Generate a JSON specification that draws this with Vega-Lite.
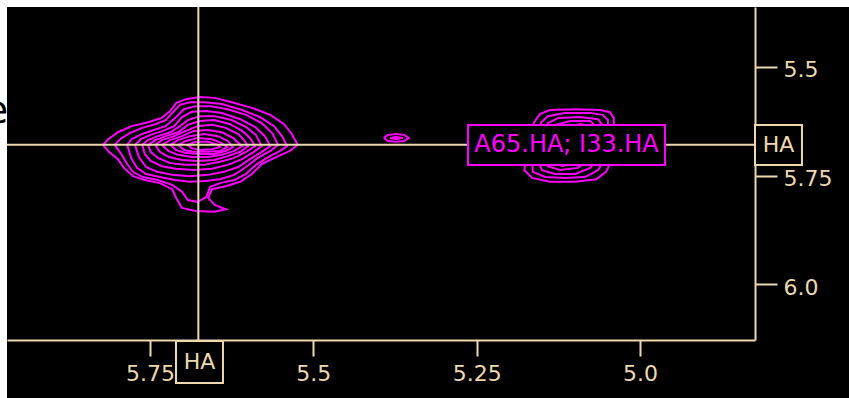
{
"$schema": "https://vega.github.io/schema/vega-lite/v6.json",
"width": 748, "height": 333,
"autosize": {"type": "none"},
"padding": {"left": 7, "top": 7, "right": 94, "bottom": 58},
"background": "#000000",
"config": {"view": {"stroke": null}},
"datasets": {
"contours": [
{"c":"m0","i":0,"x":5.822,"y":5.679},{"c":"m0","i":1,"x":5.814,"y":5.666},{"c":"m0","i":2,"x":5.799,"y":5.650},{"c":"m0","i":3,"x":5.778,"y":5.636},{"c":"m0","i":4,"x":5.753,"y":5.627},{"c":"m0","i":5,"x":5.732,"y":5.617},{"c":"m0","i":6,"x":5.719,"y":5.601},{"c":"m0","i":7,"x":5.710,"y":5.583},{"c":"m0","i":8,"x":5.695,"y":5.574},{"c":"m0","i":9,"x":5.674,"y":5.569},{"c":"m0","i":10,"x":5.651,"y":5.571},{"c":"m0","i":11,"x":5.625,"y":5.581},{"c":"m0","i":12,"x":5.594,"y":5.594},{"c":"m0","i":13,"x":5.566,"y":5.610},{"c":"m0","i":14,"x":5.545,"y":5.631},{"c":"m0","i":15,"x":5.533,"y":5.654},{"c":"m0","i":16,"x":5.524,"y":5.679},{"c":"m0","i":17,"x":5.536,"y":5.693},{"c":"m0","i":18,"x":5.557,"y":5.707},{"c":"m0","i":19,"x":5.579,"y":5.723},{"c":"m0","i":20,"x":5.594,"y":5.746},{"c":"m0","i":21,"x":5.612,"y":5.764},{"c":"m0","i":22,"x":5.634,"y":5.774},{"c":"m0","i":23,"x":5.655,"y":5.781},{"c":"m0","i":24,"x":5.661,"y":5.801},{"c":"m0","i":25,"x":5.651,"y":5.817},{"c":"m0","i":26,"x":5.634,"y":5.827},{"c":"m0","i":27,"x":5.652,"y":5.833},{"c":"m0","i":28,"x":5.680,"y":5.831},{"c":"m0","i":29,"x":5.701,"y":5.824},{"c":"m0","i":30,"x":5.710,"y":5.801},{"c":"m0","i":31,"x":5.716,"y":5.781},{"c":"m0","i":32,"x":5.735,"y":5.767},{"c":"m0","i":33,"x":5.758,"y":5.760},{"c":"m0","i":34,"x":5.776,"y":5.751},{"c":"m0","i":35,"x":5.790,"y":5.732},{"c":"m0","i":36,"x":5.799,"y":5.712},{"c":"m0","i":37,"x":5.813,"y":5.695},{"c":"m0","i":38,"x":5.822,"y":5.679},
{"c":"m1","i":0,"x":5.804,"y":5.679},{"c":"m1","i":1,"x":5.796,"y":5.666},{"c":"m1","i":2,"x":5.781,"y":5.652},{"c":"m1","i":3,"x":5.762,"y":5.640},{"c":"m1","i":4,"x":5.741,"y":5.631},{"c":"m1","i":5,"x":5.726,"y":5.622},{"c":"m1","i":6,"x":5.713,"y":5.601},{"c":"m1","i":7,"x":5.704,"y":5.587},{"c":"m1","i":8,"x":5.689,"y":5.581},{"c":"m1","i":9,"x":5.666,"y":5.581},{"c":"m1","i":10,"x":5.640,"y":5.585},{"c":"m1","i":11,"x":5.609,"y":5.599},{"c":"m1","i":12,"x":5.582,"y":5.615},{"c":"m1","i":13,"x":5.560,"y":5.636},{"c":"m1","i":14,"x":5.548,"y":5.659},{"c":"m1","i":15,"x":5.540,"y":5.682},{"c":"m1","i":16,"x":5.551,"y":5.693},{"c":"m1","i":17,"x":5.569,"y":5.707},{"c":"m1","i":18,"x":5.588,"y":5.725},{"c":"m1","i":19,"x":5.603,"y":5.746},{"c":"m1","i":20,"x":5.621,"y":5.760},{"c":"m1","i":21,"x":5.643,"y":5.767},{"c":"m1","i":22,"x":5.658,"y":5.776},{"c":"m1","i":23,"x":5.664,"y":5.799},{"c":"m1","i":24,"x":5.677,"y":5.810},{"c":"m1","i":25,"x":5.692,"y":5.806},{"c":"m1","i":26,"x":5.701,"y":5.787},{"c":"m1","i":27,"x":5.716,"y":5.771},{"c":"m1","i":28,"x":5.738,"y":5.760},{"c":"m1","i":29,"x":5.761,"y":5.753},{"c":"m1","i":30,"x":5.776,"y":5.741},{"c":"m1","i":31,"x":5.785,"y":5.723},{"c":"m1","i":32,"x":5.794,"y":5.700},{"c":"m1","i":33,"x":5.804,"y":5.679},
{"c":"m2","i":0,"x":5.785,"y":5.679},{"c":"m2","i":1,"x":5.778,"y":5.666},{"c":"m2","i":2,"x":5.762,"y":5.654},{"c":"m2","i":3,"x":5.744,"y":5.645},{"c":"m2","i":4,"x":5.726,"y":5.636},{"c":"m2","i":5,"x":5.710,"y":5.615},{"c":"m2","i":6,"x":5.698,"y":5.597},{"c":"m2","i":7,"x":5.680,"y":5.590},{"c":"m2","i":8,"x":5.658,"y":5.590},{"c":"m2","i":9,"x":5.631,"y":5.597},{"c":"m2","i":10,"x":5.603,"y":5.610},{"c":"m2","i":11,"x":5.579,"y":5.629},{"c":"m2","i":12,"x":5.563,"y":5.652},{"c":"m2","i":13,"x":5.554,"y":5.679},{"c":"m2","i":14,"x":5.566,"y":5.693},{"c":"m2","i":15,"x":5.585,"y":5.709},{"c":"m2","i":16,"x":5.603,"y":5.730},{"c":"m2","i":17,"x":5.621,"y":5.748},{"c":"m2","i":18,"x":5.643,"y":5.758},{"c":"m2","i":19,"x":5.666,"y":5.762},{"c":"m2","i":20,"x":5.689,"y":5.764},{"c":"m2","i":21,"x":5.712,"y":5.760},{"c":"m2","i":22,"x":5.735,"y":5.753},{"c":"m2","i":23,"x":5.756,"y":5.746},{"c":"m2","i":24,"x":5.770,"y":5.732},{"c":"m2","i":25,"x":5.779,"y":5.709},{"c":"m2","i":26,"x":5.785,"y":5.679},
{"c":"m3","i":0,"x":5.773,"y":5.679},{"c":"m3","i":1,"x":5.764,"y":5.666},{"c":"m3","i":2,"x":5.749,"y":5.656},{"c":"m3","i":3,"x":5.730,"y":5.647},{"c":"m3","i":4,"x":5.713,"y":5.636},{"c":"m3","i":5,"x":5.701,"y":5.615},{"c":"m3","i":6,"x":5.686,"y":5.603},{"c":"m3","i":7,"x":5.664,"y":5.601},{"c":"m3","i":8,"x":5.640,"y":5.606},{"c":"m3","i":9,"x":5.612,"y":5.620},{"c":"m3","i":10,"x":5.589,"y":5.638},{"c":"m3","i":11,"x":5.574,"y":5.659},{"c":"m3","i":12,"x":5.566,"y":5.682},{"c":"m3","i":13,"x":5.579,"y":5.695},{"c":"m3","i":14,"x":5.597,"y":5.712},{"c":"m3","i":15,"x":5.615,"y":5.730},{"c":"m3","i":16,"x":5.637,"y":5.741},{"c":"m3","i":17,"x":5.661,"y":5.748},{"c":"m3","i":18,"x":5.689,"y":5.751},{"c":"m3","i":19,"x":5.716,"y":5.748},{"c":"m3","i":20,"x":5.739,"y":5.741},{"c":"m3","i":21,"x":5.756,"y":5.730},{"c":"m3","i":22,"x":5.767,"y":5.707},{"c":"m3","i":23,"x":5.773,"y":5.679},
{"c":"m4","i":0,"x":5.762,"y":5.679},{"c":"m4","i":1,"x":5.753,"y":5.668},{"c":"m4","i":2,"x":5.738,"y":5.659},{"c":"m4","i":3,"x":5.719,"y":5.650},{"c":"m4","i":4,"x":5.704,"y":5.636},{"c":"m4","i":5,"x":5.692,"y":5.622},{"c":"m4","i":6,"x":5.674,"y":5.613},{"c":"m4","i":7,"x":5.651,"y":5.613},{"c":"m4","i":8,"x":5.625,"y":5.622},{"c":"m4","i":9,"x":5.603,"y":5.638},{"c":"m4","i":10,"x":5.588,"y":5.656},{"c":"m4","i":11,"x":5.579,"y":5.682},{"c":"m4","i":12,"x":5.591,"y":5.695},{"c":"m4","i":13,"x":5.609,"y":5.712},{"c":"m4","i":14,"x":5.631,"y":5.725},{"c":"m4","i":15,"x":5.655,"y":5.734},{"c":"m4","i":16,"x":5.683,"y":5.737},{"c":"m4","i":17,"x":5.710,"y":5.734},{"c":"m4","i":18,"x":5.732,"y":5.728},{"c":"m4","i":19,"x":5.749,"y":5.716},{"c":"m4","i":20,"x":5.758,"y":5.700},{"c":"m4","i":21,"x":5.762,"y":5.679},
{"c":"m5","i":0,"x":5.753,"y":5.679},{"c":"m5","i":1,"x":5.742,"y":5.668},{"c":"m5","i":2,"x":5.726,"y":5.659},{"c":"m5","i":3,"x":5.707,"y":5.650},{"c":"m5","i":4,"x":5.692,"y":5.633},{"c":"m5","i":5,"x":5.674,"y":5.624},{"c":"m5","i":6,"x":5.652,"y":5.622},{"c":"m5","i":7,"x":5.628,"y":5.631},{"c":"m5","i":8,"x":5.609,"y":5.647},{"c":"m5","i":9,"x":5.597,"y":5.663},{"c":"m5","i":10,"x":5.589,"y":5.682},{"c":"m5","i":11,"x":5.603,"y":5.695},{"c":"m5","i":12,"x":5.621,"y":5.709},{"c":"m5","i":13,"x":5.643,"y":5.718},{"c":"m5","i":14,"x":5.667,"y":5.725},{"c":"m5","i":15,"x":5.695,"y":5.725},{"c":"m5","i":16,"x":5.719,"y":5.721},{"c":"m5","i":17,"x":5.738,"y":5.709},{"c":"m5","i":18,"x":5.749,"y":5.695},{"c":"m5","i":19,"x":5.753,"y":5.679},
{"c":"m6","i":0,"x":5.742,"y":5.679},{"c":"m6","i":1,"x":5.732,"y":5.668},{"c":"m6","i":2,"x":5.713,"y":5.659},{"c":"m6","i":3,"x":5.695,"y":5.647},{"c":"m6","i":4,"x":5.677,"y":5.636},{"c":"m6","i":5,"x":5.655,"y":5.633},{"c":"m6","i":6,"x":5.634,"y":5.640},{"c":"m6","i":7,"x":5.615,"y":5.654},{"c":"m6","i":8,"x":5.606,"y":5.668},{"c":"m6","i":9,"x":5.600,"y":5.682},{"c":"m6","i":10,"x":5.612,"y":5.695},{"c":"m6","i":11,"x":5.631,"y":5.705},{"c":"m6","i":12,"x":5.652,"y":5.714},{"c":"m6","i":13,"x":5.677,"y":5.716},{"c":"m6","i":14,"x":5.701,"y":5.714},{"c":"m6","i":15,"x":5.721,"y":5.707},{"c":"m6","i":16,"x":5.735,"y":5.695},{"c":"m6","i":17,"x":5.742,"y":5.679},
{"c":"m7","i":0,"x":5.732,"y":5.679},{"c":"m7","i":1,"x":5.719,"y":5.668},{"c":"m7","i":2,"x":5.701,"y":5.659},{"c":"m7","i":3,"x":5.683,"y":5.647},{"c":"m7","i":4,"x":5.661,"y":5.645},{"c":"m7","i":5,"x":5.640,"y":5.650},{"c":"m7","i":6,"x":5.623,"y":5.663},{"c":"m7","i":7,"x":5.609,"y":5.682},{"c":"m7","i":8,"x":5.621,"y":5.693},{"c":"m7","i":9,"x":5.640,"y":5.702},{"c":"m7","i":10,"x":5.661,"y":5.707},{"c":"m7","i":11,"x":5.686,"y":5.707},{"c":"m7","i":12,"x":5.707,"y":5.702},{"c":"m7","i":13,"x":5.722,"y":5.693},{"c":"m7","i":14,"x":5.732,"y":5.679},
{"c":"m8","i":0,"x":5.719,"y":5.679},{"c":"m8","i":1,"x":5.707,"y":5.668},{"c":"m8","i":2,"x":5.689,"y":5.659},{"c":"m8","i":3,"x":5.667,"y":5.654},{"c":"m8","i":4,"x":5.646,"y":5.659},{"c":"m8","i":5,"x":5.631,"y":5.670},{"c":"m8","i":6,"x":5.623,"y":5.684},{"c":"m8","i":7,"x":5.634,"y":5.693},{"c":"m8","i":8,"x":5.652,"y":5.700},{"c":"m8","i":9,"x":5.674,"y":5.700},{"c":"m8","i":10,"x":5.695,"y":5.698},{"c":"m8","i":11,"x":5.710,"y":5.691},{"c":"m8","i":12,"x":5.719,"y":5.679},
{"c":"m9","i":0,"x":5.707,"y":5.679},{"c":"m9","i":1,"x":5.695,"y":5.670},{"c":"m9","i":2,"x":5.677,"y":5.663},{"c":"m9","i":3,"x":5.655,"y":5.666},{"c":"m9","i":4,"x":5.640,"y":5.675},{"c":"m9","i":5,"x":5.632,"y":5.684},{"c":"m9","i":6,"x":5.643,"y":5.693},{"c":"m9","i":7,"x":5.661,"y":5.695},{"c":"m9","i":8,"x":5.683,"y":5.695},{"c":"m9","i":9,"x":5.698,"y":5.691},{"c":"m9","i":10,"x":5.707,"y":5.679},
{"c":"m10","i":0,"x":5.693,"y":5.679},{"c":"m10","i":1,"x":5.680,"y":5.672},{"c":"m10","i":2,"x":5.661,"y":5.672},{"c":"m10","i":3,"x":5.646,"y":5.679},{"c":"m10","i":4,"x":5.643,"y":5.684},{"c":"m10","i":5,"x":5.655,"y":5.689},{"c":"m10","i":6,"x":5.674,"y":5.691},{"c":"m10","i":7,"x":5.687,"y":5.686},{"c":"m10","i":8,"x":5.693,"y":5.679},
{"c":"p0","i":0,"x":5.168,"y":5.656},{"c":"p0","i":1,"x":5.162,"y":5.627},{"c":"p0","i":2,"x":5.153,"y":5.608},{"c":"p0","i":3,"x":5.138,"y":5.599},{"c":"p0","i":4,"x":5.099,"y":5.597},{"c":"p0","i":5,"x":5.061,"y":5.599},{"c":"p0","i":6,"x":5.046,"y":5.604},{"c":"p0","i":7,"x":5.040,"y":5.617},{"c":"p0","i":8,"x":5.040,"y":5.656},{"c":"p0","i":9,"x":5.043,"y":5.714},{"c":"p0","i":10,"x":5.052,"y":5.741},{"c":"p0","i":11,"x":5.067,"y":5.758},{"c":"p0","i":12,"x":5.099,"y":5.764},{"c":"p0","i":13,"x":5.138,"y":5.764},{"c":"p0","i":14,"x":5.165,"y":5.755},{"c":"p0","i":15,"x":5.177,"y":5.737},{"c":"p0","i":16,"x":5.174,"y":5.702},{"c":"p0","i":17,"x":5.168,"y":5.656},
{"c":"p1","i":0,"x":5.156,"y":5.656},{"c":"p1","i":1,"x":5.151,"y":5.627},{"c":"p1","i":2,"x":5.141,"y":5.613},{"c":"p1","i":3,"x":5.115,"y":5.606},{"c":"p1","i":4,"x":5.076,"y":5.606},{"c":"p1","i":5,"x":5.057,"y":5.610},{"c":"p1","i":6,"x":5.049,"y":5.622},{"c":"p1","i":7,"x":5.049,"y":5.656},{"c":"p1","i":8,"x":5.055,"y":5.714},{"c":"p1","i":9,"x":5.064,"y":5.737},{"c":"p1","i":10,"x":5.084,"y":5.753},{"c":"p1","i":11,"x":5.115,"y":5.755},{"c":"p1","i":12,"x":5.145,"y":5.753},{"c":"p1","i":13,"x":5.164,"y":5.741},{"c":"p1","i":14,"x":5.165,"y":5.714},{"c":"p1","i":15,"x":5.156,"y":5.656},
{"c":"p2","i":0,"x":5.145,"y":5.656},{"c":"p2","i":1,"x":5.141,"y":5.629},{"c":"p2","i":2,"x":5.125,"y":5.617},{"c":"p2","i":3,"x":5.092,"y":5.615},{"c":"p2","i":4,"x":5.064,"y":5.620},{"c":"p2","i":5,"x":5.058,"y":5.633},{"c":"p2","i":6,"x":5.061,"y":5.668},{"c":"p2","i":7,"x":5.067,"y":5.714},{"c":"p2","i":8,"x":5.076,"y":5.732},{"c":"p2","i":9,"x":5.099,"y":5.746},{"c":"p2","i":10,"x":5.130,"y":5.746},{"c":"p2","i":11,"x":5.150,"y":5.737},{"c":"p2","i":12,"x":5.156,"y":5.714},{"c":"p2","i":13,"x":5.145,"y":5.656},
{"c":"p3","i":0,"x":5.135,"y":5.656},{"c":"p3","i":1,"x":5.129,"y":5.633},{"c":"p3","i":2,"x":5.107,"y":5.624},{"c":"p3","i":3,"x":5.076,"y":5.624},{"c":"p3","i":4,"x":5.067,"y":5.638},{"c":"p3","i":5,"x":5.073,"y":5.679},{"c":"p3","i":6,"x":5.079,"y":5.714},{"c":"p3","i":7,"x":5.095,"y":5.732},{"c":"p3","i":8,"x":5.122,"y":5.737},{"c":"p3","i":9,"x":5.141,"y":5.728},{"c":"p3","i":10,"x":5.144,"y":5.702},{"c":"p3","i":11,"x":5.135,"y":5.656},
{"c":"p4","i":0,"x":5.122,"y":5.668},{"c":"p4","i":1,"x":5.115,"y":5.645},{"c":"p4","i":2,"x":5.092,"y":5.631},{"c":"p4","i":3,"x":5.076,"y":5.636},{"c":"p4","i":4,"x":5.083,"y":5.691},{"c":"p4","i":5,"x":5.095,"y":5.718},{"c":"p4","i":6,"x":5.119,"y":5.728},{"c":"p4","i":7,"x":5.133,"y":5.714},{"c":"p4","i":8,"x":5.122,"y":5.668},
{"c":"s0","i":0,"x":5.392,"y":5.663},{"c":"s0","i":1,"x":5.386,"y":5.656},{"c":"s0","i":2,"x":5.373,"y":5.654},{"c":"s0","i":3,"x":5.361,"y":5.656},{"c":"s0","i":4,"x":5.354,"y":5.663},{"c":"s0","i":5,"x":5.361,"y":5.670},{"c":"s0","i":6,"x":5.373,"y":5.672},{"c":"s0","i":7,"x":5.386,"y":5.670},{"c":"s0","i":8,"x":5.392,"y":5.663},
{"c":"s1","i":0,"x":5.383,"y":5.663},{"c":"s1","i":1,"x":5.373,"y":5.661},{"c":"s1","i":2,"x":5.363,"y":5.663},{"c":"s1","i":3,"x":5.373,"y":5.666},{"c":"s1","i":4,"x":5.383,"y":5.663}
]
},
"encoding": {
"x": {"field": "x", "type": "quantitative", "scale": {"domain": [4.8239, 5.9689], "reverse": true, "nice": false, "zero": false}, "title": null,
"axis": {"orient": "bottom", "values": [5.0, 5.25, 5.5, 5.75], "labelExpr": "datum.value == 5 ? '5.0' : toString(datum.value)", "grid": false, "domainColor": "#eed8ae", "domainWidth": 2, "tickColor": "#eed8ae", "tickWidth": 2, "tickSize": 16, "labelColor": "#eed8ae", "labelFont": "DejaVu Sans", "labelFontSize": 22, "labelPadding": 7, "labelFlush": false, "labelOverlap": false}},
"y": {"field": "y", "type": "quantitative", "scale": {"domain": [5.3621, 6.1276], "reverse": true, "nice": false, "zero": false}, "title": null,
"axis": {"orient": "right", "values": [5.5, 5.75, 6.0], "labelExpr": "datum.value == 6 ? '6.0' : toString(datum.value)", "grid": false, "domainColor": "#eed8ae", "domainWidth": 2, "tickColor": "#eed8ae", "tickWidth": 2, "tickSize": 22, "labelColor": "#eed8ae", "labelFont": "DejaVu Sans", "labelFontSize": 22, "labelPadding": 6, "labelBaseline": "middle", "labelOffset": 3, "labelFlush": false, "labelOverlap": false}}
},
"layer": [
{
"data": {"values": [{"x":5.9796,"x2":5.9689,"y":5.346,"y2":6.261},{"x":5.9796,"x2":4.680,"y":5.346,"y2":5.3621}]},
"mark": {"type": "rect", "fill": "#ffffff", "strokeWidth": 0},
"encoding": {"x2": {"field": "x2"}, "y2": {"field": "y2"}}
},
{
"data": {"name": "contours"},
"mark": {"type": "line", "stroke": "#ff00ff", "strokeWidth": 2, "interpolate": "linear"},
"encoding": {"detail": {"field": "c"}, "order": {"field": "i", "type": "quantitative"}}
},
{
"data": {"values": [{"x": 5.676, "y": 5.3621, "y2": 6.1276}]},
"mark": {"type": "rule", "stroke": "#eed8ae", "strokeWidth": 2},
"encoding": {"y2": {"field": "y2"}}
},
{
"data": {"values": [{"x": 5.9689, "x2": 4.8239, "y": 5.679}]},
"mark": {"type": "rule", "stroke": "#eed8ae", "strokeWidth": 2},
"encoding": {"x2": {"field": "x2"}}
},
{
"data": {"values": [{"x":5.2632,"x2":4.9617,"y":5.6334,"y2":5.7253}]},
"mark": {"type": "rect", "fill": "#000000", "stroke": "#ff00ff", "strokeWidth": 2},
"encoding": {"x2": {"field": "x2"}, "y2": {"field": "y2"}}
},
{
"data": {"values": [{"x":4.8239,"x2":4.752,"y":5.6334,"y2":5.7253},{"x":5.7102,"x2":5.6383,"y":6.1299,"y2":6.2265}]},
"mark": {"type": "rect", "fill": "#000000", "stroke": "#eed8ae", "strokeWidth": 2},
"encoding": {"x2": {"field": "x2"}, "y2": {"field": "y2"}}
},
{
"data": {"values": [{"x":5.1124,"y":5.679,"t":"A65.HA; I33.HA"}]},
"mark": {"type": "text", "color": "#ff00ff", "font": "DejaVu Sans", "fontSize": 24, "align": "center", "baseline": "middle"},
"encoding": {"text": {"field": "t"}}
},
{
"data": {"values": [{"x":4.788,"y":5.679,"t":"HA"},{"x":5.6742,"y":6.178,"t":"HA"}]},
"mark": {"type": "text", "color": "#eed8ae", "font": "DejaVu Sans", "fontSize": 22, "align": "center", "baseline": "middle"},
"encoding": {"text": {"field": "t"}}
},
{
"data": {"values": [{"x":5.967,"y":5.604,"t":"e"}]},
"mark": {"type": "text", "color": "#000000", "font": "DejaVu Sans", "fontSize": 38, "align": "right", "baseline": "middle"},
"encoding": {"text": {"field": "t"}}
}
]
}
